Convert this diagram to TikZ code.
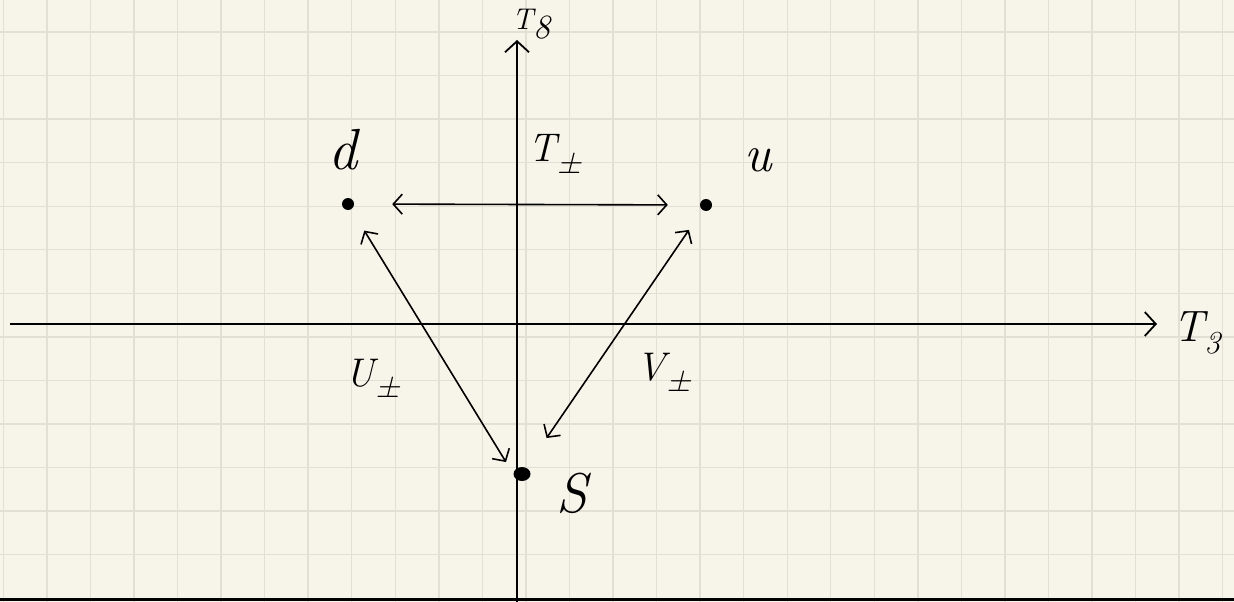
\documentclass[tikz,border=0pt]{standalone}
\usetikzlibrary{arrows.meta,shapes.geometric}
\definecolor{paper}{HTML}{F7F5EA}
\definecolor{gridc}{HTML}{E2E0D5}
\newcommand{\fsz}[1]{\fontsize{#1}{#1}\selectfont}
\newcommand{\lowsub}[2]{\raisebox{-0.28em}{\fsz{#1}#2}}
\begin{document}
\begin{tikzpicture}[x=1pt,y=-1pt,
  axis/.style={line width=1.8pt,-{Straight Barb[length=11pt,width=24pt,line width=1.8pt]}},
  dbl/.style={line width=1.6pt,{Straight Barb[length=9pt,width=20pt,line width=1.6pt]}-{Straight Barb[length=9pt,width=20pt,line width=1.6pt]}},
  dot/.style={circle,fill=black,inner sep=0pt,minimum size=12pt},
  lab/.style={inner sep=0pt,font=\fsz{40}\itshape}
]
\fill[paper] (0,0) rectangle (1234,602);
\useasboundingbox (0,0) rectangle (1234,602);
\foreach \i in {0,...,28} \draw[gridc,line width=1.4pt] ({3.3+43.55*\i},0) -- ++(0,602);
\foreach \j in {0,...,12} \draw[gridc,line width=1.4pt] (0,{32+43.55*\j}) -- ++(1234,0);
% bottom rule
\coordinate (bl) at (0,599.5);
\coordinate (br) at (1234,599.5);
\draw[line width=3pt] (bl) -- (br);
% axes
\coordinate (xs) at (10,324);
\coordinate (xe) at (1157,324);
\coordinate (ys) at (517,602);
\coordinate (ye) at (517,40);
\draw[axis] (xs) -- (xe);
\draw[axis] (ys) -- (ye);
\node[lab,font={\fsz{44}\itshape}] (t3) at (1197,333) {T\lowsub{32}{3}};
\node[lab,font={\fsz{30}\itshape}] (t8) at (531,24) {T\lowsub{34}{8}};
% points
\node[dot] (d) at (348,204) {};
\node[dot] (u) at (706,205) {};
\node[ellipse,fill=black,inner sep=0pt,minimum width=17pt,minimum height=14pt] (s) at (522,474) {};
\node[lab,font={\fsz{58}\itshape}] (dl) at (343,150) {d};
\node[lab,font={\fsz{52}\itshape}] (ul) at (758,160) {u};
\node[lab,font={\fsz{56}\itshape}] (sl) at (572,493) {S};
% ladder operators
\draw[dbl,shorten <=38pt,shorten >=32pt] (d) -- (u);
\draw[dbl,shorten <=25pt,shorten >=14pt] (d) -- (s.west);
\draw[dbl,shorten <=24pt,shorten >=36pt] (u) -- (s);
\node[lab] (tpm) at (555,154) {T\lowsub{34}{±}};
\node[lab] (upm) at (373,378) {U\lowsub{34}{±}};
\node[lab] (vpm) at (664,372) {V\lowsub{34}{±}};
\end{tikzpicture}
\end{document}
